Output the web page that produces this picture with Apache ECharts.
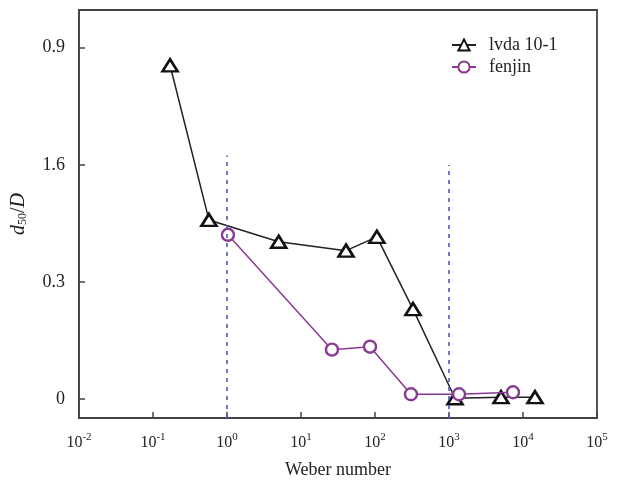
<!DOCTYPE html>
<html>
<head>
<meta charset="utf-8">
<script src="https://cdn.jsdelivr.net/npm/echarts@6/dist/echarts.min.js"></script>
<style>html,body{margin:0;padding:0;background:#fff}#c{width:618px;height:484px}</style>
</head>
<body>
<div id="c"></div>
<script>
// Y axis tick labels (as printed, at positions 0,1,2,3)
var yTickPos = [0, 1, 2, 3];
var yTickLabels = ['0', '0.3', '1.6', '0.9'];
// X axis decades exponent labels
var xTickExp = ['-2', '-1', '0', '1', '2', '3', '4', '5'];

// series: lvda 10-1 (triangles)
var lvdaWe = [0.17, 0.57, 5.0, 40.6, 106, 326, 1205, 5044, 14530];
var lvdaD  = [2.85, 1.53, 1.344, 1.268, 1.386, 0.769, 0.008, 0.017, 0.017];
// series: fenjin (circles)
var fenjinWe = [1.03, 26.2, 85.6, 306, 1365, 7325];
var fenjinD  = [1.403, 0.423, 0.448, 0.042, 0.042, 0.059];

// dashed guide lines
var guideX   = [1, 1000];
var guideTop = [2.08, 2.0];

var yMin = -0.1606, yMax = 3.322;
var FONT = "'Liberation Serif','Times New Roman',serif";

function zip(a, b) { return a.map(function (v, i) { return [v, b[i]]; }); }

var chart = echarts.init(document.getElementById('c'), null, {renderer: 'canvas'});
chart.setOption({
  animation: false,
  backgroundColor: '#fff',
  textStyle: {fontFamily: FONT},
  grid: {left: 79, right: 21, top: 10, bottom: 62, show: true, borderColor: '#444', borderWidth: 1.8, containLabel: false},
  legend: {
    orient: 'vertical', left: 446, top: 31, itemWidth: 24, itemHeight: 14, itemGap: 4,
    textStyle: {fontFamily: FONT, fontSize: 18, color: '#222', padding: [0, 0, 0, 8]},
    data: ['lvda 10-1', 'fenjin']
  },
  xAxis: {
    type: 'log', logBase: 10, min: 0.01, max: 100000,
    name: 'Weber number', nameLocation: 'middle', nameGap: 43,
    nameTextStyle: {fontFamily: FONT, fontSize: 18, color: '#222'},
    axisLine: {show: true, onZero: false, lineStyle: {color: '#444', width: 1.8}},
    axisTick: {show: true, inside: true, length: 6, lineStyle: {color: '#444', width: 1.5}},
    minorTick: {show: false},
    splitLine: {show: false},
    axisLabel: {
      margin: 14, color: '#222', fontFamily: FONT,
      formatter: function (v) {
        var e = Math.round(Math.log10(v));
        var idx = e + 2;
        return '{b|10}{s|' + xTickExp[idx] + '}';
      },
      rich: {
        b: {fontSize: 16, fontFamily: FONT, color: '#222', verticalAlign: 'bottom'},
        s: {fontSize: 11, fontFamily: FONT, color: '#222', verticalAlign: 'top', padding: [0, 0, 8, 0]}
      }
    }
  },
  yAxis: {
    type: 'value', min: yMin, max: yMax,
    name: '{i|d}{sub|50}{n|/}{i|D}', nameLocation: 'middle', nameGap: 50, nameRotate: 90,
    nameTextStyle: {
      fontFamily: FONT, fontSize: 20, color: '#222',
      rich: {
        i: {fontFamily: FONT, fontSize: 20, fontStyle: 'italic', color: '#222'},
        n: {fontFamily: FONT, fontSize: 20, color: '#222'},
        sub: {fontFamily: FONT, fontSize: 12, color: '#222', verticalAlign: 'bottom', padding: [9, 0, 0, 0]}
      }
    },
    axisLine: {show: true, onZero: false, lineStyle: {color: '#444', width: 1.8}},
    axisTick: {show: true, inside: true, length: 6, customValues: yTickPos, lineStyle: {color: '#444', width: 1.5}},
    splitLine: {show: false},
    axisLabel: {
      margin: 14, color: '#222', fontFamily: FONT, fontSize: 18,
      customValues: yTickPos,
      formatter: function (v) { return yTickLabels[Math.round(v)]; }
    }
  },
  series: [
    {
      name: 'lvda 10-1', type: 'line', data: zip(lvdaWe, lvdaD),
      symbol: 'triangle', symbolSize: [15, 12],
      itemStyle: {color: '#fff', borderColor: '#111', borderWidth: 2.6},
      lineStyle: {color: '#222', width: 1.5},
      z: 3,
      markLine: {
        silent: true, symbol: 'none', animation: false,
        label: {show: false},
        lineStyle: {color: '#4a5bc4', type: [4, 5], width: 1.6},
        data: guideX.map(function (x, i) {
          return [{coord: [x, yMin]}, {coord: [x, guideTop[i]]}];
        })
      }
    },
    {
      name: 'fenjin', type: 'line', data: zip(fenjinWe, fenjinD),
      symbol: 'circle', symbolSize: 12,
      itemStyle: {color: '#fff', borderColor: '#8a3a92', borderWidth: 2.4},
      lineStyle: {color: '#8a3a92', width: 1.5},
      z: 4
    }
  ]
});
</script>
</body>
</html>
